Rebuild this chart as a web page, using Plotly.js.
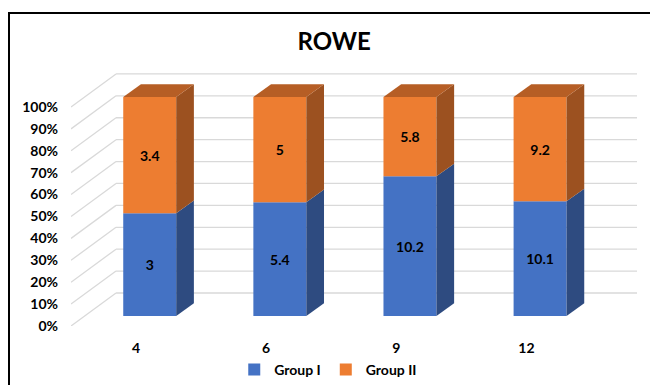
<!DOCTYPE html>
<html>
<head>
<meta charset="utf-8">
<script src="https://cdn.plot.ly/plotly-3.0.1.min.js"></script>
<style>
  html, body { margin: 0; padding: 0; background: #fff; }
  #wrap { position: relative; width: 650px; height: 385px; }
  #chart { width: 650px; height: 385px; }
  #frame { position: absolute; left: 8px; top: 12px; width: 660px; height: 400px;
           border-top: 2px solid #000; border-left: 2px solid #000; pointer-events: none; box-sizing: border-box; }
</style>
</head>
<body>
<div id="wrap"><div id="chart"></div><div id="frame"></div></div>
<script>
// ---- data ----
var categories = ['4', '6', '9', '12'];
var groupI = [3, 5.4, 10.2, 10.1];
var groupII = [3.4, 5, 5.8, 9.2];
var seriesNames = ['Group I', 'Group II'];
var yTickVals = [0, 10, 20, 30, 40, 50, 60, 70, 80, 90, 100];
var yTickText = ['0%', '10%', '20%', '30%', '40%', '50%', '60%', '70%', '80%', '90%', '100%'];

// ---- styling / pseudo-3D geometry (in axis units) ----
var colFront = ['#4472C4', '#ED7D31'];
var colSide = ['#2E4B80', '#9C5120'];
var colTop = '#B65E25';
var gridCol = '#D9D9D9';
var barW = 0.407;
var barDx = 0.105, barDy = 4.57;     // offset of bar front face from front plane
var depDx = 0.136, depDy = 5.8;      // bar depth
var wallDx = 0.346, wallDy = 15.07;  // back wall offset
var xR = [-0.5, 3.85], yR = [0, 115.5];

var idx = categories.map(function (c, i) { return i; });
var tot = groupI.map(function (v, i) { return v + groupII[i]; });
var p1 = groupI.map(function (v, i) { return v / tot[i] * 100; });
var p2 = groupII.map(function (v, i) { return v / tot[i] * 100; });

var lblFont = { family: 'Lato, sans-serif', size: 14, weight: 'bold', color: '#000' };

var traces = [];
traces.push({
  type: 'bar', name: seriesNames[0], x: idx.map(function (i) { return i + barDx; }),
  y: p1, base: idx.map(function () { return barDy; }), width: barW,
  marker: { color: colFront[0], line: { width: 0 } },
  text: groupI.map(String), textposition: 'inside', insidetextanchor: 'middle',
  textangle: 0, constraintext: 'none', textfont: lblFont, hoverinfo: 'skip'
});
traces.push({
  type: 'bar', name: seriesNames[1], x: idx.map(function (i) { return i + barDx; }),
  y: p2, base: p1.map(function (v) { return v + barDy; }), width: barW,
  marker: { color: colFront[1], line: { width: 0 } },
  text: groupII.map(String), textposition: 'inside', insidetextanchor: 'middle',
  textangle: 0, constraintext: 'none', textfont: lblFont, hoverinfo: 'skip'
});

function face(xs, ys, col) {
  traces.push({ type: 'scatter', mode: 'lines', x: xs, y: ys, fill: 'toself',
    fillcolor: col, line: { width: 0, color: col }, showlegend: false, hoverinfo: 'skip' });
}
idx.forEach(function (i) {
  var xl = i + barDx - barW / 2, xr = i + barDx + barW / 2;
  var b0 = barDy, b1 = barDy + p1[i], b2 = barDy + p1[i] + p2[i];
  face([xr, xr + depDx, xr + depDx, xr, xr], [b0, b0 + depDy, b1 + depDy, b1, b0], colSide[0]);
  face([xr, xr + depDx, xr + depDx, xr, xr], [b1, b1 + depDy, b2 + depDy, b2, b1], colSide[1]);
  face([xl, xl + depDx, xr + depDx, xr, xl], [b2, b2 + depDy, b2 + depDy, b2, b2], colTop);
});

var shapes = [];
yTickVals.forEach(function (v) {
  shapes.push({ type: 'line', xref: 'x', yref: 'y', layer: 'below',
    x0: xR[0], y0: v, x1: xR[0] + wallDx, y1: v + wallDy, line: { color: gridCol, width: 1.3 } });
  shapes.push({ type: 'line', xref: 'x', yref: 'y', layer: 'below',
    x0: xR[0] + wallDx, y0: v + wallDy, x1: xR[1], y1: v + wallDy, line: { color: gridCol, width: 1.3 } });
});

var layout = {
  width: 650, height: 385,
  margin: { l: 71, r: 13, t: 73, b: 59 },
  paper_bgcolor: '#fff', plot_bgcolor: 'rgba(0,0,0,0)',
  barmode: 'overlay',
  showlegend: true,
  title: { text: 'ROWE', font: { family: 'Lato, sans-serif', size: 24, weight: 'bold', color: '#000' },
    x: 0.514, xref: 'container', xanchor: 'center', y: 0.893, yref: 'container', yanchor: 'middle' },
  xaxis: { range: xR, tickvals: idx, ticktext: categories, showgrid: false, zeroline: false,
    showline: false, ticks: '', ticklabelstandoff: 12, automargin: false,
    tickfont: lblFont, fixedrange: true },
  yaxis: { range: yR, tickvals: yTickVals, ticktext: yTickText, showgrid: false, zeroline: false,
    showline: false, ticks: '', ticklabelstandoff: 12, automargin: false,
    tickfont: lblFont, fixedrange: true },
  legend: { orientation: 'h', xref: 'container', x: 0.505, xanchor: 'center',
    yref: 'container', y: 0.039, yanchor: 'middle',
    font: lblFont, traceorder: 'normal', itemwidth: 30 },
  shapes: shapes
};

Plotly.newPlot('chart', traces, layout, { staticPlot: true, displayModeBar: false });
</script>
</body>
</html>
